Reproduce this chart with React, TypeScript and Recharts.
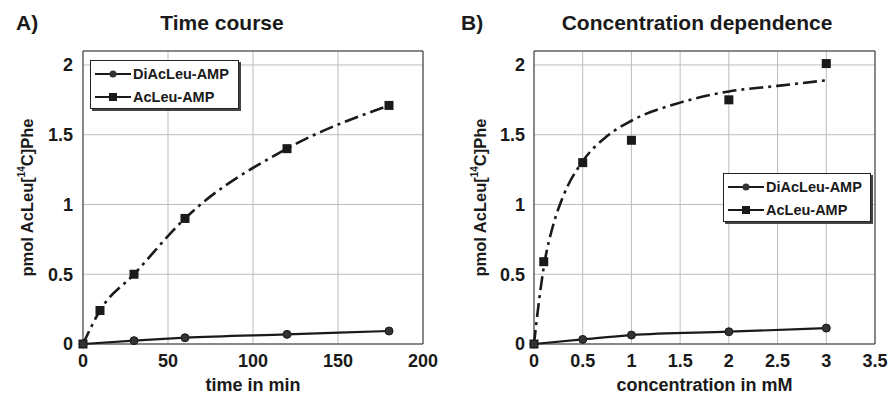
import React from "react"
import {
  ComposedChart,
  Line,
  Scatter,
  XAxis,
  YAxis,
  CartesianGrid,
  ReferenceArea,
  Legend,
} from "recharts"

// A) time course
const timeMin = [0, 10, 30, 60, 120, 180]
const acLeuTime = [0, 0.24, 0.5, 0.9, 1.4, 1.71]
const diAcTimeMin = [0, 30, 60, 120, 180]
const diAcTime = [0, 0.024, 0.045, 0.069, 0.093]
const timeTicks = [0, 50, 100, 150, 200]

// B) concentration dependence
const concMM = [0, 0.1, 0.5, 1, 2, 3]
const acLeuConc = [0, 0.59, 1.3, 1.46, 1.75, 2.01]
const fitConcMM = [0, 0.05, 0.1, 0.2, 0.3, 0.5, 0.75, 1, 1.5, 2, 2.5, 3]
const fitAcLeuConc = [0, 0.3, 0.55, 0.86, 1.06, 1.31, 1.49, 1.6, 1.73, 1.81, 1.85, 1.89]
const diAcConcMM = [0, 0.5, 1, 2, 3]
const diAcConc = [0, 0.033, 0.064, 0.088, 0.114]
const concTicks = [0, 0.5, 1, 1.5, 2, 2.5, 3, 3.5]

const yTicks = [0, 0.5, 1, 1.5, 2]

const FONT = '"Liberation Sans", Arial, sans-serif'
const INK = "#1a1a1a"
const GRID = "#bdbdbd"

const pts = (xs: number[], ys: number[]) => xs.map((x, i) => ({ x, y: ys[i] }))

const tickStyle = { fill: INK, fontSize: 18, fontWeight: 700, fontFamily: FONT }

const Square = (p: any) => (
  <rect x={p.cx - 4.5} y={p.cy - 4.5} width={9} height={9} fill={INK} />
)
const Dot = (p: any) => {
  if (p.cx == null) return null
  return <circle key={p.index} cx={p.cx} cy={p.cy} r={4} fill="#333" stroke={INK} strokeWidth={1} />
}

function YLabel({ viewBox, cx }: any) {
  const cy = viewBox.y + viewBox.height / 2
  return (
    <text
      x={cx}
      y={cy}
      transform={`rotate(-90, ${cx}, ${cy})`}
      textAnchor="middle"
      dominantBaseline="central"
      fill={INK}
      fontSize={16.5}
      fontWeight={700}
      fontFamily={FONT}
    >
      pmol AcLeu[<tspan dy={-6} fontSize={10}>14</tspan>
      <tspan dy={6}>C]Phe</tspan>
    </text>
  )
}

function LegendBox() {
  const row = (marker: React.ReactNode, label: string) => (
    <div style={{ display: "flex", alignItems: "center", height: 23 }}>
      <svg width={36} height={12} style={{ marginRight: 2 }}>
        <line x1={0} y1={6} x2={36} y2={6} stroke={INK} strokeWidth={2} />
        {marker}
      </svg>
      <span>{label}</span>
    </div>
  )
  return (
    <div
      style={{
        background: "#fff",
        border: "1px solid #222",
        boxShadow: "2px 2px 0 #444",
        padding: "1px 0 0 4px",
        height: 46,
        fontFamily: FONT,
        fontSize: 14.5,
        fontWeight: 700,
        color: INK,
        boxSizing: "content-box",
      }}
    >
      {row(<circle cx={18} cy={6} r={3.5} fill="#333" />, "DiAcLeu-AMP")}
      {row(<rect x={14} y={2} width={8} height={8} fill={INK} />, "AcLeu-AMP")}
    </div>
  )
}

const titleStyle: React.CSSProperties = {
  position: "absolute",
  top: 12,
  fontFamily: FONT,
  fontSize: 21,
  lineHeight: "21px",
  fontWeight: 700,
  color: INK,
  whiteSpace: "nowrap",
}

function xLabel(text: string) {
  return ({ viewBox }: any) => (
    <text
      x={viewBox.x + viewBox.width / 2}
      y={viewBox.y + 47}
      textAnchor="middle"
      fill={INK}
      fontSize={18}
      fontWeight={700}
      fontFamily={FONT}
    >
      {text}
    </text>
  )
}

export default function App() {
  return (
    <div style={{ position: "absolute", left: 0, top: 0, width: 888, height: 394, background: "#fff" }}>
      <div style={{ ...titleStyle, left: 16 }}>A)</div>
      <div style={{ ...titleStyle, left: 222, transform: "translateX(-50%)" }}>Time course</div>
      <div style={{ ...titleStyle, left: 461 }}>B)</div>
      <div style={{ ...titleStyle, left: 697, transform: "translateX(-50%)" }}>Concentration dependence</div>

      <div style={{ position: "absolute", left: 0, top: 0 }}>
        <ComposedChart width={444} height={394} margin={{ top: 51, right: 21, bottom: 0, left: 0 }}>
          <CartesianGrid stroke={GRID} strokeWidth={1} />
          <XAxis
            type="number"
            dataKey="x"
            domain={[0, 200]}
            ticks={timeTicks}
            height={50}
            axisLine={false}
            tickLine={false}
            tickSize={8}
            tickMargin={2}
            tick={tickStyle}
            label={{ content: xLabel("time in min") }}
          />
          <YAxis
            type="number"
            dataKey="y"
            domain={[0, 2.1]}
            ticks={yTicks}
            width={83}
            axisLine={false}
            tickLine={false}
            tickSize={8}
            tickMargin={2}
            tick={tickStyle}
            tickFormatter={(v: number) => String(v)}
            label={{ content: (p: any) => <YLabel {...p} cx={27} /> }}
          />
          <ReferenceArea x1={0} x2={200} y1={0} y2={2.1} fill="none" fillOpacity={0} stroke="#333" strokeWidth={1} />
          <Line
            data={pts(diAcTimeMin, diAcTime)}
            dataKey="y"
            type="monotone"
            stroke={INK}
            strokeWidth={2.2}
            dot={Dot}
            isAnimationActive={false}
          />
          <Line
            data={pts(timeMin, acLeuTime)}
            dataKey="y"
            type="monotone"
            stroke={INK}
            strokeWidth={2.6}
            strokeDasharray="14 5 3 5"
            dot={false}
            isAnimationActive={false}
          />
          <Scatter data={pts(timeMin, acLeuTime)} dataKey="y" shape={Square} isAnimationActive={false} />
          <Legend
            layout="vertical"
            align="center"
            verticalAlign="middle"
            content={() => <LegendBox />}
            wrapperStyle={{ left: 90, top: 60, width: 149, height: 48 }}
          />
        </ComposedChart>
      </div>

      <div style={{ position: "absolute", left: 444, top: 0 }}>
        <ComposedChart width={444} height={394} margin={{ top: 51, right: 13, bottom: 0, left: 0 }}>
          <CartesianGrid stroke={GRID} strokeWidth={1} />
          <XAxis
            type="number"
            dataKey="x"
            domain={[0, 3.5]}
            ticks={concTicks}
            height={50}
            axisLine={false}
            tickLine={false}
            tickSize={8}
            tickMargin={2}
            tick={tickStyle}
            label={{ content: xLabel("concentration in mM") }}
          />
          <YAxis
            type="number"
            dataKey="y"
            domain={[0, 2.1]}
            ticks={yTicks}
            width={90}
            axisLine={false}
            tickLine={false}
            tickSize={8}
            tickMargin={1}
            tick={tickStyle}
            tickFormatter={(v: number) => String(v)}
            label={{ content: (p: any) => <YLabel {...p} cx={36} /> }}
          />
          <ReferenceArea x1={0} x2={3.5} y1={0} y2={2.1} fill="none" fillOpacity={0} stroke="#333" strokeWidth={1} />
          <Line
            data={pts(diAcConcMM, diAcConc)}
            dataKey="y"
            type="monotone"
            stroke={INK}
            strokeWidth={2.2}
            dot={Dot}
            isAnimationActive={false}
          />
          <Line
            data={pts(fitConcMM, fitAcLeuConc)}
            dataKey="y"
            type="monotone"
            stroke={INK}
            strokeWidth={2.6}
            strokeDasharray="14 5 3 5"
            dot={false}
            isAnimationActive={false}
          />
          <Scatter data={pts(concMM, acLeuConc)} dataKey="y" shape={Square} isAnimationActive={false} />
          <Legend
            layout="vertical"
            align="center"
            verticalAlign="middle"
            content={() => <LegendBox />}
            wrapperStyle={{ left: 279, top: 173, width: 148, height: 48 }}
          />
        </ComposedChart>
      </div>
    </div>
  )
}
